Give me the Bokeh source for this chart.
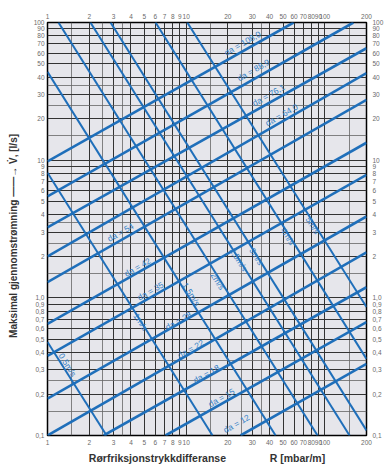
import math
from bokeh.plotting import figure
from bokeh.models import (FixedTicker, LogAxis, Label, Range1d, ColumnDataSource,
                          CustomJSTickFormatter)
from bokeh.embed import file_html
from bokeh.resources import INLINE

# ---------------- data ----------------
x_ticks = [1, 2, 3, 4, 5, 6, 7, 8, 9, 10, 20, 30, 40, 50, 60, 70, 80, 90, 100, 200]
y_ticks = [0.1, 0.2, 0.3, 0.4, 0.5, 0.6, 0.7, 0.8, 0.9, 1, 2, 3, 4, 5, 6, 7, 8, 9,
           10, 20, 30, 40, 50, 60, 70, 80, 90, 100]
x_grid_minor = [1.5, 2.5, 3.5, 15, 25, 35, 150]
y_grid_minor = [0.15, 0.25, 0.35, 1.5, 2.5, 3.5, 15, 25, 35]

# pipe outer-diameter lines: where each enters / leaves the chart (R mbar/m, V l/s)
da_labels = ["da = 12", "da = 15", "da = 18", "da = 22", "da = 28", "da = 35",
             "da = 42", "da = 54", "da = 64,0", "da = 76,1", "da = 88,9", "da = 108,0"]
da_r0 = [24.7, 7.1, 2.54, 1, 1, 1, 1, 1, 1, 1, 1, 1]
da_v0 = [0.1, 0.1, 0.1, 0.1, 0.185, 0.379, 0.646, 1.30, 2.0, 3.25, 5.46, 9.79]
da_r1 = [200, 200, 200, 200, 200, 200, 200, 200, 200, 200, 161, 59.6]
da_v1 = [0.332, 0.667, 1.195, 2.14, 3.90, 7.83, 13.4, 27.4, 42.9, 65.0, 100, 100]

# velocity lines
vel_labels = ["0,5m/s", "1m/s", "1,5m/s", "2m/s", "2,5m/s", "3m/s", "4m/s", "5m/s"]
vel_r0 = [1, 1, 1, 1.20, 2.04, 2.85, 6.02, 10.2]
vel_v0 = [0.478, 8.1, 43.8, 100, 100, 100, 100, 100]
vel_r1 = [2.67, 15.5, 44.2, 88.7, 151, 200, 200, 200]
vel_v1 = [0.1, 0.1, 0.1, 0.1, 0.1, 0.109, 0.36, 0.857]

# label anchor positions (data coords)
da_lab_r = [23.1, 18.0, 14.0, 10.8, 8.81, 5.53, 4.46, 3.36, 48.8, 39.3, 30.6, 25.5]
da_lab_v = [0.122, 0.188, 0.28, 0.425, 0.68, 1.12, 1.67, 2.99, 21.3, 29.7, 45.1, 70.6]
vel_lab_r = [1.394, 4.69, 10.9, 16.9, 23.9, 32.2, 53.9, 81.7]
vel_lab_v = [0.326, 0.667, 1.06, 1.32, 1.90, 2.0, 2.79, 3.36]

NB = "\u00a0"
x_title = "Rørfriksjonstrykkdifferanse" + NB * 15 + "R" + NB + "[mbar/m]"
y_title = "Maksimal gjennomstrømning" + NB + "——→" + NB + "V̇," + NB + "[l/s]" + NB * 5

# ---------------- styling ----------------
BLUE = "#1f6fba"
LBLUE = "#3380c6"
FONT = "Liberation Sans"
W, H = 386, 466
BL, BR, BT, BB = 47, 20, 22, 29

p = figure(width=W, height=H, x_axis_type="log", y_axis_type="log",
           x_range=Range1d(1, 200), y_range=Range1d(0.1, 100),
           output_backend="svg", toolbar_location=None,
           min_border_left=BL, min_border_right=BR, min_border_top=BT, min_border_bottom=BB)
p.background_fill_color = "#e6e6eb"
p.border_fill_color = "white"
p.outline_line_color = "black"
p.outline_line_width = 1.5

bottom_ax = p.below[0]
left_ax = p.left[0]
top_ax = LogAxis()
right_ax = LogAxis()
p.add_layout(top_ax, "above")
p.add_layout(right_ax, "right")

p.xgrid.ticker = FixedTicker(ticks=x_ticks, minor_ticks=x_grid_minor)
p.ygrid.ticker = FixedTicker(ticks=y_ticks, minor_ticks=y_grid_minor)
for g in (p.xgrid, p.ygrid):
    g.grid_line_color = "#333333"
    g.grid_line_width = 1
    g.minor_grid_line_color = "#666666"
    g.minor_grid_line_width = 0.8

xfmt = CustomJSTickFormatter(code="return tick.toFixed(0);")
yfmt = CustomJSTickFormatter(code="""
if (tick < 0.95) { return tick.toFixed(1).replace('.', ','); }
if (Math.abs(tick - 1) < 1e-9) { return '1,0'; }
return tick.toFixed(0);
""")

for ax, tk, fm in ((bottom_ax, x_ticks, xfmt), (top_ax, x_ticks, xfmt),
                   (left_ax, y_ticks, yfmt), (right_ax, y_ticks, yfmt)):
    ax.ticker = FixedTicker(ticks=tk)
    ax.formatter = fm
    ax.axis_line_color = None
    ax.major_tick_line_color = None
    ax.minor_tick_line_color = None
    ax.major_tick_out = 0
    ax.major_tick_in = 0
    ax.minor_tick_out = 0
    ax.minor_tick_in = 0
    ax.major_label_text_font_size = "6.5px"
    ax.major_label_text_color = "#6a6a6a"
    ax.major_label_text_font = FONT
    ax.major_label_standoff = 4
left_ax.major_label_standoff = 3
right_ax.major_label_standoff = 6

bottom_ax.axis_label = x_title
bottom_ax.axis_label_standoff = 4
bottom_ax.axis_label_text_font_size = "10.5px"
left_ax.axis_label = y_title
left_ax.axis_label_standoff = 12
left_ax.axis_label_text_font_size = "10px"
for ax in (bottom_ax, left_ax):
    ax.axis_label_text_font = FONT
    ax.axis_label_text_font_style = "bold"
    ax.axis_label_text_color = "#333333"

# ---------------- lines ----------------
da_src = ColumnDataSource(dict(x0=da_r0, y0=da_v0, x1=da_r1, y1=da_v1))
vel_src = ColumnDataSource(dict(x0=vel_r0, y0=vel_v0, x1=vel_r1, y1=vel_v1))
p.segment("x0", "y0", "x1", "y1", source=vel_src, line_color=BLUE, line_width=2.0)
p.segment("x0", "y0", "x1", "y1", source=da_src, line_color=BLUE, line_width=2.6)

da_angle = math.atan(0.572)
vel_angle = -math.atan(1.6)
for t, r, v in zip(da_labels, da_lab_r, da_lab_v):
    p.add_layout(Label(x=r, y=v, text=t, angle=da_angle, text_align="center",
                       text_baseline="middle", text_font_size="8.5px",
                       text_color=LBLUE, text_font=FONT))
for t, r, v in zip(vel_labels, vel_lab_r, vel_lab_v):
    p.add_layout(Label(x=r, y=v, text=t, angle=vel_angle, text_align="center",
                       text_baseline="middle", text_font_size="8.5px",
                       text_color=LBLUE, text_font=FONT))

open("out.html", "w").write(file_html(p, INLINE))
